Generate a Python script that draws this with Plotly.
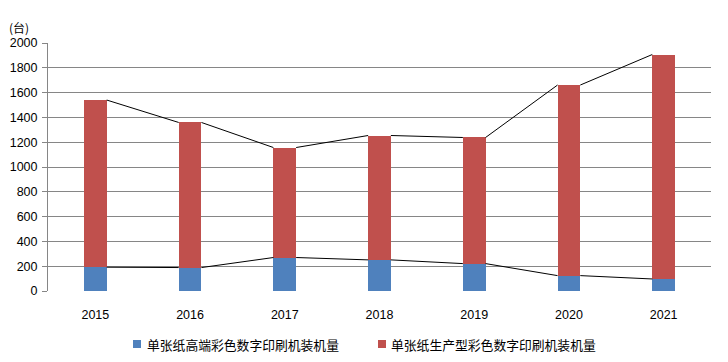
import plotly.graph_objects as go

years = ["2015", "2016", "2017", "2018", "2019", "2020", "2021"]
high_end = [192, 189, 270, 251, 221, 124, 97]
production = [1348, 1170, 887, 1003, 1017, 1537, 1810]
series_names = ["单张纸高端彩色数字印刷机装机量", "单张纸生产型彩色数字印刷机装机量"]
y_ticks = [0, 200, 400, 600, 800, 1000, 1200, 1400, 1600, 1800, 2000]

BLUE = "#4F81BD"
RED = "#C0504D"
BAR_W = 0.24
FONT = "Liberation Sans, Arial, sans-serif"
CJK = "Noto Sans CJK SC, sans-serif"

L, R, T, B = 48, 17, 43, 71
W, H = 728, 362
PW, PH = W - L - R, H - T - B

def px_x(px):
    return (px - L) / PW

def px_y(py):
    return (H - B - py) / PH

xs = list(range(len(years)))
totals = [a + b for a, b in zip(high_end, production)]

fig = go.Figure()
fig.add_trace(go.Bar(x=xs, y=high_end, name=series_names[0], marker=dict(color=BLUE, line=dict(width=0)),
                     width=BAR_W, showlegend=False))
fig.add_trace(go.Bar(x=xs, y=production, name=series_names[1], marker=dict(color=RED, line=dict(width=0)),
                     width=BAR_W, showlegend=False))

def series_line(vals):
    lx, ly = [], []
    for i in range(len(vals) - 1):
        lx += [xs[i] + BAR_W / 2, xs[i + 1] - BAR_W / 2, None]
        ly += [vals[i], vals[i + 1], None]
    return lx, ly

for vals in (high_end, totals):
    lx, ly = series_line(vals)
    fig.add_trace(go.Scatter(x=lx, y=ly, mode="lines", line=dict(color="black", width=1),
                             showlegend=False, hoverinfo="skip"))

fig.update_layout(
    barmode="stack",
    width=W, height=H,
    margin=dict(l=L, r=R, t=T, b=B),
    plot_bgcolor="white", paper_bgcolor="white",
    font=dict(family=FONT, size=12, color="black"),
    showlegend=False,
)
fig.update_xaxes(range=[-0.5, len(years) - 0.5], tickvals=xs, ticktext=years, showgrid=False,
                 zeroline=False, showline=False, ticks="", automargin=False, ticklabelstandoff=14,
                 tickfont=dict(size=12.5, family=FONT))
fig.update_yaxes(range=[0, 2000], tickvals=y_ticks, showgrid=True, gridcolor="#868686", gridwidth=1,
                 zeroline=False, showline=True, linecolor="#868686", linewidth=1, automargin=False,
                 ticks="outside", ticklen=5, tickcolor="#868686", ticklabelstandoff=2,
                 tickfont=dict(size=12.5, family=FONT))
fig.add_annotation(text="(台)", xref="paper", yref="paper", x=px_x(7), y=px_y(27),
                   xanchor="left", yanchor="middle", showarrow=False, font=dict(family=CJK, size=12))

# custom legend
legend_items = [(series_names[0], BLUE, 133, 145), (series_names[1], RED, 378, 389)]
for name, color, sq_x, tx in legend_items:
    fig.add_shape(type="rect", xref="paper", yref="paper",
                  x0=px_x(sq_x), x1=px_x(sq_x + 8), y0=px_y(348), y1=px_y(340),
                  fillcolor=color, line=dict(width=0))
    fig.add_annotation(text=name, xref="paper", yref="paper", x=px_x(tx), y=px_y(344),
                       xanchor="left", yanchor="middle", showarrow=False,
                       font=dict(family=CJK, size=12.8, color="black"))

fig.write_html("out.html", config={"displayModeBar": False},
               post_script="document.body.style.margin='0px';")
